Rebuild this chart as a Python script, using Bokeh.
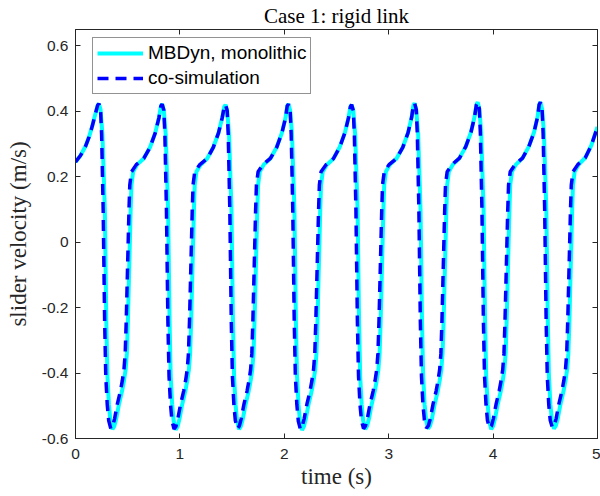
from bokeh.plotting import figure
from bokeh.models import Range1d, FixedTicker, LinearAxis, Legend, LegendItem
from bokeh.embed import file_html
from bokeh.resources import INLINE

# ---- data ----
t_mbdyn = [
    0.000, 0.048, 0.096, 0.130, 0.160, 0.190,
    0.212, 0.224, 0.240, 0.258, 0.281, 0.295, 0.306, 0.320, 0.334, 0.354, 0.372, 0.390, 0.416, 0.446, 0.464, 0.480, 0.492, 0.502, 0.528, 0.536, 0.552, 0.590, 0.654, 0.714, 0.764, 0.799,
    0.818, 0.830, 0.846, 0.864, 0.887, 0.901, 0.912, 0.926, 0.940, 0.960, 0.978, 0.996, 1.022, 1.052, 1.070, 1.086, 1.098, 1.108, 1.134, 1.142, 1.158, 1.196, 1.260, 1.320, 1.370, 1.405,
    1.425, 1.437, 1.453, 1.471, 1.494, 1.508, 1.519, 1.533, 1.547, 1.567, 1.585, 1.603, 1.629, 1.659, 1.677, 1.693, 1.705, 1.715, 1.741, 1.749, 1.765, 1.803, 1.867, 1.927, 1.977, 2.012,
    2.028, 2.040, 2.056, 2.074, 2.097, 2.111, 2.122, 2.136, 2.150, 2.170, 2.188, 2.206, 2.232, 2.262, 2.280, 2.296, 2.308, 2.318, 2.344, 2.352, 2.368, 2.406, 2.470, 2.530, 2.580, 2.615,
    2.633, 2.645, 2.661, 2.679, 2.702, 2.716, 2.727, 2.741, 2.755, 2.775, 2.793, 2.811, 2.837, 2.867, 2.885, 2.901, 2.913, 2.923, 2.949, 2.957, 2.973, 3.011, 3.075, 3.135, 3.185, 3.220,
    3.236, 3.248, 3.264, 3.282, 3.305, 3.319, 3.330, 3.344, 3.358, 3.378, 3.396, 3.414, 3.440, 3.470, 3.488, 3.504, 3.516, 3.526, 3.552, 3.560, 3.576, 3.614, 3.678, 3.738, 3.788, 3.823,
    3.840, 3.852, 3.868, 3.886, 3.909, 3.923, 3.934, 3.948, 3.962, 3.982, 4.000, 4.018, 4.044, 4.074, 4.092, 4.108, 4.120, 4.130, 4.156, 4.164, 4.180, 4.218, 4.282, 4.342, 4.392, 4.427,
    4.441, 4.453, 4.469, 4.487, 4.510, 4.524, 4.535, 4.549, 4.563, 4.583, 4.601, 4.619, 4.645, 4.675, 4.693, 4.709, 4.721, 4.731, 4.757, 4.765, 4.781, 4.819, 4.883, 4.940, 5.000,
]
v_mbdyn = [
    0.245, 0.265, 0.293, 0.322, 0.354, 0.392,
    0.418, 0.423, 0.405, 0.330, 0.100, -0.240, -0.410, -0.496, -0.545, -0.572, -0.562, -0.540, -0.496, -0.455, -0.424, -0.390, -0.340, -0.240, 0.095, 0.175, 0.215, 0.237, 0.256, 0.290, 0.334, 0.380,
    0.416, 0.422, 0.403, 0.330, 0.100, -0.240, -0.410, -0.496, -0.546, -0.573, -0.563, -0.540, -0.496, -0.455, -0.424, -0.390, -0.340, -0.240, 0.095, 0.175, 0.215, 0.236, 0.255, 0.290, 0.334, 0.380,
    0.414, 0.420, 0.402, 0.328, 0.100, -0.240, -0.410, -0.496, -0.545, -0.572, -0.562, -0.540, -0.496, -0.455, -0.424, -0.390, -0.340, -0.240, 0.095, 0.175, 0.215, 0.237, 0.256, 0.290, 0.334, 0.380,
    0.416, 0.422, 0.403, 0.330, 0.100, -0.240, -0.410, -0.496, -0.547, -0.574, -0.563, -0.540, -0.496, -0.455, -0.424, -0.390, -0.340, -0.240, 0.095, 0.175, 0.215, 0.236, 0.255, 0.290, 0.334, 0.380,
    0.414, 0.420, 0.402, 0.328, 0.100, -0.240, -0.410, -0.496, -0.545, -0.572, -0.562, -0.540, -0.496, -0.455, -0.424, -0.390, -0.340, -0.240, 0.095, 0.175, 0.215, 0.237, 0.256, 0.290, 0.334, 0.382,
    0.418, 0.425, 0.405, 0.332, 0.100, -0.240, -0.410, -0.496, -0.544, -0.570, -0.561, -0.540, -0.496, -0.455, -0.424, -0.390, -0.340, -0.240, 0.095, 0.175, 0.215, 0.237, 0.257, 0.292, 0.336, 0.384,
    0.420, 0.428, 0.408, 0.334, 0.100, -0.240, -0.410, -0.496, -0.545, -0.572, -0.562, -0.540, -0.496, -0.455, -0.424, -0.390, -0.340, -0.240, 0.095, 0.175, 0.215, 0.237, 0.257, 0.292, 0.336, 0.384,
    0.420, 0.428, 0.408, 0.334, 0.100, -0.240, -0.410, -0.496, -0.544, -0.570, -0.561, -0.540, -0.496, -0.455, -0.424, -0.390, -0.340, -0.240, 0.095, 0.175, 0.215, 0.237, 0.258, 0.295, 0.352,
]
t_cosim = [
    0.000, 0.048, 0.096, 0.130, 0.160, 0.190,
    0.212, 0.224, 0.240, 0.250, 0.265, 0.279, 0.290, 0.304, 0.318, 0.338, 0.356, 0.374, 0.400, 0.430, 0.448, 0.464, 0.476, 0.486, 0.512, 0.520, 0.536, 0.582, 0.654, 0.714, 0.764, 0.799,
    0.818, 0.830, 0.846, 0.856, 0.871, 0.885, 0.896, 0.910, 0.924, 0.944, 0.962, 0.980, 1.006, 1.036, 1.054, 1.070, 1.082, 1.092, 1.118, 1.126, 1.142, 1.188, 1.260, 1.320, 1.370, 1.405,
    1.425, 1.437, 1.453, 1.463, 1.478, 1.492, 1.503, 1.517, 1.531, 1.551, 1.569, 1.587, 1.613, 1.643, 1.661, 1.677, 1.689, 1.699, 1.725, 1.733, 1.749, 1.795, 1.867, 1.927, 1.977, 2.012,
    2.028, 2.040, 2.056, 2.066, 2.081, 2.095, 2.106, 2.120, 2.134, 2.154, 2.172, 2.190, 2.216, 2.246, 2.264, 2.280, 2.292, 2.302, 2.328, 2.336, 2.352, 2.398, 2.470, 2.530, 2.580, 2.615,
    2.633, 2.645, 2.661, 2.671, 2.686, 2.700, 2.711, 2.725, 2.739, 2.759, 2.777, 2.795, 2.821, 2.851, 2.869, 2.885, 2.897, 2.907, 2.933, 2.941, 2.957, 3.003, 3.075, 3.135, 3.185, 3.220,
    3.236, 3.248, 3.264, 3.274, 3.289, 3.303, 3.314, 3.328, 3.342, 3.362, 3.380, 3.398, 3.424, 3.454, 3.472, 3.488, 3.500, 3.510, 3.536, 3.544, 3.560, 3.606, 3.678, 3.738, 3.788, 3.823,
    3.840, 3.852, 3.868, 3.878, 3.893, 3.907, 3.918, 3.932, 3.946, 3.966, 3.984, 4.002, 4.028, 4.058, 4.076, 4.092, 4.104, 4.114, 4.140, 4.148, 4.164, 4.210, 4.282, 4.342, 4.392, 4.427,
    4.441, 4.453, 4.469, 4.479, 4.494, 4.508, 4.519, 4.533, 4.547, 4.567, 4.585, 4.603, 4.629, 4.659, 4.677, 4.693, 4.705, 4.715, 4.741, 4.749, 4.765, 4.811, 4.883, 4.940, 5.000,
]
v_cosim = [
    0.245, 0.265, 0.293, 0.322, 0.354, 0.392,
    0.418, 0.423, 0.405, 0.330, 0.100, -0.240, -0.410, -0.496, -0.545, -0.570, -0.562, -0.540, -0.496, -0.455, -0.424, -0.390, -0.340, -0.240, 0.095, 0.175, 0.215, 0.237, 0.256, 0.290, 0.334, 0.380,
    0.416, 0.422, 0.403, 0.330, 0.100, -0.240, -0.410, -0.496, -0.546, -0.571, -0.563, -0.540, -0.496, -0.455, -0.424, -0.390, -0.340, -0.240, 0.095, 0.175, 0.215, 0.236, 0.255, 0.290, 0.334, 0.380,
    0.414, 0.420, 0.402, 0.328, 0.100, -0.240, -0.410, -0.496, -0.545, -0.570, -0.562, -0.540, -0.496, -0.455, -0.424, -0.390, -0.340, -0.240, 0.095, 0.175, 0.215, 0.237, 0.256, 0.290, 0.334, 0.380,
    0.416, 0.422, 0.403, 0.330, 0.100, -0.240, -0.410, -0.496, -0.547, -0.572, -0.563, -0.540, -0.496, -0.455, -0.424, -0.390, -0.340, -0.240, 0.095, 0.175, 0.215, 0.236, 0.255, 0.290, 0.334, 0.380,
    0.414, 0.420, 0.402, 0.328, 0.100, -0.240, -0.410, -0.496, -0.545, -0.570, -0.562, -0.540, -0.496, -0.455, -0.424, -0.390, -0.340, -0.240, 0.095, 0.175, 0.215, 0.237, 0.256, 0.290, 0.334, 0.382,
    0.418, 0.425, 0.405, 0.332, 0.100, -0.240, -0.410, -0.496, -0.544, -0.568, -0.561, -0.540, -0.496, -0.455, -0.424, -0.390, -0.340, -0.240, 0.095, 0.175, 0.215, 0.237, 0.257, 0.292, 0.336, 0.384,
    0.420, 0.428, 0.408, 0.334, 0.100, -0.240, -0.410, -0.496, -0.545, -0.568, -0.562, -0.540, -0.496, -0.455, -0.424, -0.390, -0.340, -0.240, 0.095, 0.175, 0.215, 0.237, 0.257, 0.292, 0.336, 0.384,
    0.420, 0.428, 0.408, 0.334, 0.100, -0.240, -0.410, -0.496, -0.544, -0.566, -0.561, -0.540, -0.496, -0.455, -0.424, -0.390, -0.340, -0.240, 0.095, 0.175, 0.215, 0.237, 0.258, 0.295, 0.352,
]
x_ticks = [0, 1, 2, 3, 4, 5]
y_ticks = [-0.6, -0.4, -0.2, 0, 0.2, 0.4, 0.6]
y_tick_labels = {-0.6: "-0.6", -0.4: "-0.4", -0.2: "-0.2", 0: "0", 0.2: "0.2", 0.4: "0.4", 0.6: "0.6"}
x_tick_labels = {v: str(v) for v in x_ticks}

AX = "#262626"
SERIF = "Liberation Serif"
SANS = "Liberation Sans"

p = figure(width=600, height=496, x_range=Range1d(0, 5), y_range=Range1d(-0.6, 0.65),
           output_backend="svg", toolbar_location=None,
           min_border_left=75, min_border_right=3, min_border_top=28, min_border_bottom=58)
p.xgrid.visible = False
p.ygrid.visible = False
p.outline_line_color = AX
p.outline_line_width = 1
p.background_fill_color = "white"
p.border_fill_color = "white"

p.title.text = "Case 1: rigid link"
p.title.align = "center"
p.title.text_font = SERIF
p.title.text_font_style = "normal"
p.title.text_font_size = "21px"
p.title.text_color = "black"
p.title.standoff = 3

def style(ax, ticker, labels, show):
    ax.ticker = FixedTicker(ticks=ticker)
    ax.major_label_overrides = labels
    ax.axis_line_color = AX
    ax.major_tick_line_color = AX
    ax.major_tick_in = 5
    ax.major_tick_out = 0
    ax.minor_tick_line_color = None
    ax.major_label_text_font = SANS
    ax.major_label_text_font_size = "15.5px" if show else "0px"
    ax.major_label_text_color = AX

style(p.xaxis[0], x_ticks, x_tick_labels, True)
style(p.yaxis[0], y_ticks, y_tick_labels, True)
p.xaxis.major_label_standoff = 10
p.yaxis.major_label_standoff = 7
p.xaxis.axis_label = "time (s)"
p.yaxis.axis_label = "slider velocity (m/s)"
for ax in (p.xaxis[0], p.yaxis[0]):
    ax.axis_label_text_font = SERIF
    ax.axis_label_text_font_style = "normal"
    ax.axis_label_text_font_size = "23px"
    ax.axis_label_text_color = AX
p.xaxis.axis_label_standoff = 2
p.yaxis.axis_label_standoff = 8

top = LinearAxis()
style(top, x_ticks, {v: "" for v in x_ticks}, False)
top.major_label_standoff = 0
p.add_layout(top, "above")
right = LinearAxis()
style(right, y_ticks, {v: "" for v in y_ticks}, False)
right.major_label_standoff = 0
p.add_layout(right, "right")

r1 = p.line(t_mbdyn, v_mbdyn, line_color="#00FFFF", line_width=4)
r2 = p.line(t_cosim, v_cosim, line_color="#0000FF", line_width=3.5, line_dash="11 7")

legend = Legend(items=[LegendItem(label="MBDyn, monolithic", renderers=[r1]),
                       LegendItem(label="co-simulation", renderers=[r2])],
                location=(17, 344))
legend.label_text_font = SANS
legend.label_text_font_size = "19px"
legend.label_text_color = "black"
legend.glyph_width = 46
legend.glyph_height = 20
legend.label_height = 20
legend.label_standoff = 5
legend.padding = 4
legend.spacing = 3
legend.margin = 0
legend.border_line_color = AX
legend.border_line_width = 1
legend.background_fill_color = "white"
legend.background_fill_alpha = 1
p.add_layout(legend)

open("out.html", "w").write(file_html(p, INLINE))
